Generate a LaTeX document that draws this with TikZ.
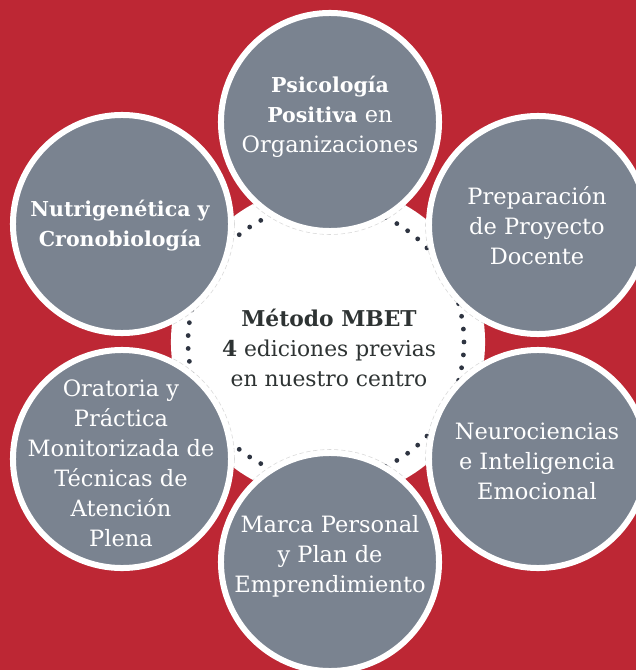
\documentclass[tikz,border=0pt]{standalone}
\usepackage{fontspec}
\setmainfont{DejaVu Serif}
\usetikzlibrary{positioning}
\definecolor{mbetred}{HTML}{BD2734}
\definecolor{topicgrey}{HTML}{7A8390}
\definecolor{dotnavy}{HTML}{2E3441}
\definecolor{hubink}{HTML}{2E3333}
% bold words inside the topics run a bit smaller
\newcommand{\topicbf}[1]{{\fontsize{14.6}{21.3}\selectfont\bfseries #1}}

\tikzset{
	topic/.style={circle, fill=topicgrey, draw=white, line width=4.27pt, minimum size=5.45cm, inner sep=0pt},
	topictext/.style={text=white, align=center, font=\fontsize{16}{21.3}\selectfont},
	hub/.style={circle, fill=white, minimum size=7.85cm, inner sep=0pt},
	hubtext/.style={text=hubink, align=center, font=\fontsize{15.5}{21.3}\selectfont},
}

\begin{document}
\begin{tikzpicture}[x=0.025cm, y=-0.025cm]
	\fill[mbetred] (0,0) rectangle (636,670);
	\useasboundingbox (0,0) rectangle (636,670);
	\node[hub] (hub) at (328,342) {};
	\def\ringradius{138}
	\def\haloradius{112.5}
%
	% dotted ring, mostly hidden under the topics
	\foreach \i in {0,...,66}
		\fill[dotnavy, shift={(326,342)}] (360/67*\i:\ringradius) circle (2.4);
%
	\node[topic] (psico) at (330,122) {};
	\node[topic] (prep) at (538,225) {};
	\node[topic] (neuro) at (538,459) {};
	\node[topic] (marca) at (330,562) {};
	\node[topic] (orat) at (122,459) {};
	\node[topic] (nutri) at (122,224) {};
%
	% faint edge of the topics over the white hub
	\begin{scope}
		\clip (hub.center) circle (157);
		\foreach \t in {psico,prep,neuro,marca,orat,nutri}
			\draw[black!15, line width=0.4pt, densely dashed] (\t.center) circle (\haloradius);
	\end{scope}
%
	\node[topictext] (psicotxt) at (330,117) {\topicbf{Psicología}\\\topicbf{Positiva} en\\Organizaciones};
	\node[topictext] (preptxt) at (537,226) {Preparación\\de Proyecto\\Docente};
	\node[topictext] (neurotxt) at (537,461) {Neurociencias\\e Inteligencia\\Emocional};
	\node[topictext] (marcatxt) at (330,556) {Marca Personal\\y Plan de\\Emprendimiento};
	\node[topictext] (orattxt) at (121,463) {Oratoria y\\Práctica\\Monitorizada de\\Técnicas de\\Atención\\Plena};
	\node[topictext] (nutritxt) at (120,226) {\topicbf{Nutrigenética y}\\\topicbf{Cronobiología}};
	\node[hubtext] (hubtxt) at (329,348) {\textbf{Método MBET}\\\textbf{4} ediciones previas\\en nuestro centro};
\end{tikzpicture}
\end{document}
